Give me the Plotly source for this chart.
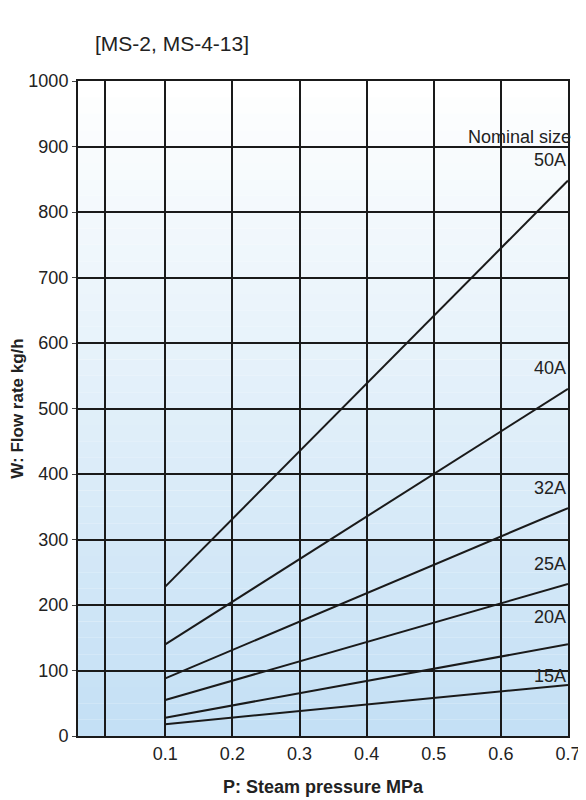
import plotly.graph_objects as go

pressure = [0.1, 0.7]
sizes = ["15A", "20A", "25A", "32A", "40A", "50A"]
flow = {
    "15A": [18, 78],
    "20A": [28, 140],
    "25A": [55, 232],
    "32A": [88, 348],
    "40A": [140, 530],
    "50A": [228, 848],
}
x_ticks = [0.1, 0.2, 0.3, 0.4, 0.5, 0.6, 0.7]
y_ticks = list(range(0, 1001, 100))

fig = go.Figure()
for s in sizes:
    fig.add_trace(go.Scatter(x=pressure, y=flow[s], mode="lines",
                             line=dict(color="#1a1a1a", width=2), showlegend=False))

# gradient background: white at top to light blue at bottom
n = 40
shapes = []
for i in range(n):
    t = i / (n - 1)
    r = int(255 - (255 - 196) * t)
    g = int(255 - (255 - 224) * t)
    b = int(255 - (255 - 245) * t)
    shapes.append(dict(type="rect", xref="x domain", yref="y domain",
                       x0=0, x1=1, y0=1 - (i + 1) / n, y1=1 - i / n,
                       fillcolor=f"rgb({r},{g},{b})", line=dict(width=0), layer="below"))
fig.update_layout(shapes=shapes)

label_y = {"15A": 92, "20A": 182, "25A": 262, "32A": 378, "40A": 562, "50A": 880}
for s in sizes:
    fig.add_annotation(x=0.7, y=label_y[s], text=s, showarrow=False, xanchor="right",
                       font=dict(size=18, color="#222"))
fig.add_annotation(xref="paper", yref="y", x=1.01, y=915, text="Nominal size",
                   showarrow=False, xanchor="right", font=dict(size=18, color="#222"))
fig.add_annotation(xref="paper", yref="paper", x=0.03, y=1.078, text="[MS-2, MS-4-13]",
                   showarrow=False, xanchor="left", font=dict(size=21, color="#222"))

fig.update_xaxes(range=[-0.03, 0.7], tickvals=[0.01] + x_ticks,
                 ticktext=[""] + [str(v) for v in x_ticks], automargin=False,
                 showgrid=True, gridcolor="#1a1a1a", gridwidth=1.5,
                 showline=True, linecolor="#1a1a1a", linewidth=2, mirror=True,
                 ticks="", zeroline=False, tickfont=dict(size=18, color="#222"),
                 title=dict(text="<b>P: Steam pressure MPa</b>", standoff=18,
                            font=dict(size=18, color="#222")))
fig.update_yaxes(range=[0, 1000], tickvals=y_ticks, automargin=False,
                 showgrid=True, gridcolor="#1a1a1a", gridwidth=1.5,
                 showline=True, linecolor="#1a1a1a", linewidth=2, mirror=True,
                 ticks="outside", ticklen=4, zeroline=False, tickfont=dict(size=18, color="#222"),
                 title=dict(text="<b>W: Flow rate kg/h</b>", standoff=8,
                            font=dict(size=17, color="#222")))
fig.update_layout(width=586, height=800, template="plotly_white",
                  font=dict(family="Liberation Sans, Arial"),
                  paper_bgcolor="white", plot_bgcolor="white",
                  margin=dict(l=70, r=26, t=73, b=72))
fig.write_html("out.html")
